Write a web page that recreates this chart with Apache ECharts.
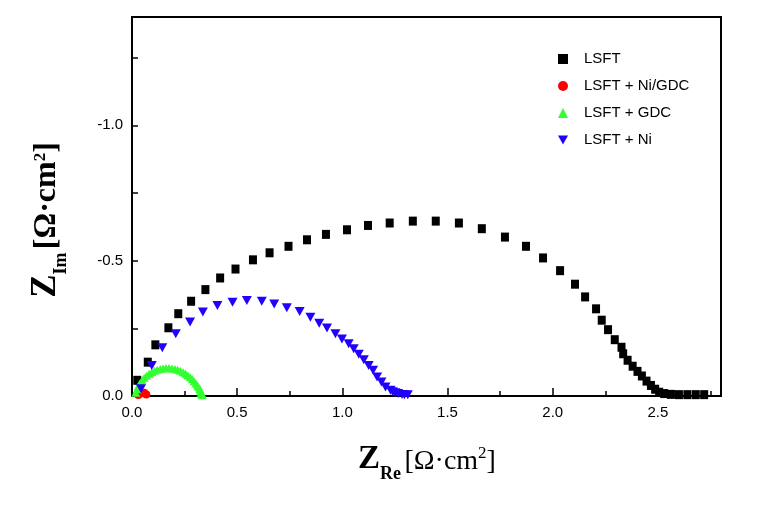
<!DOCTYPE html>
<html>
<head>
<meta charset="utf-8">
<script src="https://cdn.jsdelivr.net/npm/echarts@6/dist/echarts.min.js"></script>
<style>html,body{margin:0;padding:0;background:#fff}#c{width:780px;height:519px}</style>
</head>
<body>
<div id="c"></div>
<script>
// Z_Re [Ohm cm2] and Z_Im [Ohm cm2] (negative = capacitive, plotted upward)
const seriesNames = ['LSFT', 'LSFT + Ni/GDC', 'LSFT + GDC', 'LSFT + Ni'];

const lsftRe = [0.025,0.075,0.111,0.173,0.220,0.281,0.349,0.419,0.492,0.575,0.654,0.744,0.832,0.922,1.022,1.122,1.225,1.335,1.444,1.554,1.663,1.773,1.873,1.954,2.035,2.106,2.154,2.206,2.233,2.263,2.295,2.327,2.335,2.356,2.380,2.403,2.424,2.446,2.467,2.487,2.506,2.530,2.562,2.60,2.64,2.68,2.72];
const lsftIm = [-0.058,-0.125,-0.189,-0.252,-0.304,-0.350,-0.393,-0.436,-0.469,-0.503,-0.529,-0.553,-0.577,-0.597,-0.614,-0.630,-0.639,-0.646,-0.646,-0.639,-0.618,-0.587,-0.553,-0.510,-0.463,-0.413,-0.366,-0.322,-0.280,-0.245,-0.208,-0.180,-0.156,-0.132,-0.110,-0.091,-0.074,-0.055,-0.039,-0.025,-0.014,-0.009,-0.006,-0.005,-0.005,-0.005,-0.005];

const niGdcRe = [0.030,0.045,0.058,0.068];
const niGdcIm = [-0.004,-0.010,-0.012,-0.006];

const gdcRe = [0.018,0.024,0.031,0.039,0.048,0.058,0.069,0.081,0.094,0.107,0.120,0.134,0.148,0.162,0.176,0.190,0.204,0.217,0.230,0.243,0.255,0.266,0.277,0.287,0.296,0.304,0.311,0.317,0.322,0.326,0.329,0.332,0.334];
const gdcIm = [-0.012,-0.025,-0.037,-0.048,-0.058,-0.067,-0.075,-0.082,-0.088,-0.093,-0.097,-0.100,-0.102,-0.103,-0.103,-0.102,-0.100,-0.097,-0.093,-0.088,-0.082,-0.076,-0.069,-0.062,-0.054,-0.046,-0.039,-0.032,-0.025,-0.018,-0.012,-0.007,-0.003];

const niRe = [0.043,0.094,0.144,0.208,0.276,0.337,0.406,0.478,0.546,0.617,0.676,0.736,0.797,0.848,0.890,0.927,0.967,0.998,1.030,1.054,1.078,1.102,1.125,1.146,1.165,1.186,1.205,1.229,1.240,1.252,1.265,1.284,1.295,1.311];
const niIm = [-0.027,-0.113,-0.178,-0.230,-0.273,-0.310,-0.334,-0.346,-0.353,-0.350,-0.340,-0.326,-0.312,-0.291,-0.269,-0.251,-0.230,-0.211,-0.193,-0.175,-0.154,-0.134,-0.113,-0.095,-0.070,-0.052,-0.033,-0.021,-0.016,-0.012,-0.009,-0.006,-0.005,-0.005];

const xTickLabels = ['0.0','0.5','1.0','1.5','2.0','2.5'];
const yTickLabels = ['0.0','-0.5','-1.0'];

function pts(re, im) { return re.map((r, i) => [r, -im[i]]); }

const labelFont = "'Liberation Sans Narrow','Liberation Sans',Arial,sans-serif";
const serif = "'Liberation Serif','DejaVu Serif',serif";

function titleRich(bracketWeight, zSize, brSize) {
  return {
    z: {fontFamily: serif, fontWeight: 'bold', fontSize: zSize, lineHeight: 32, padding: [0, 0, 7, 0], verticalAlign: 'bottom', fill: '#000'},
    sub: {fontFamily: serif, fontWeight: 'bold', fontSize: 18, lineHeight: 18, verticalAlign: 'bottom', fill: '#000'},
    br: {fontFamily: serif, fontWeight: bracketWeight, fontSize: brSize, lineHeight: 32, padding: [0, 0, 7, 0], verticalAlign: 'bottom', fill: '#000'},
    sup: {fontFamily: serif, fontWeight: bracketWeight, fontSize: 17, lineHeight: 17, padding: [0, 0, 21, 0], verticalAlign: 'bottom', fill: '#000'}
  };
}

const chart = echarts.init(document.getElementById('c'), null, {renderer: 'canvas'});
chart.setOption({
  backgroundColor: '#fff',
  animation: false,
  grid: {left: 132, right: 59, top: 17, bottom: 123, show: true, borderColor: '#000', borderWidth: 2, backgroundColor: 'transparent'},
  legend: {
    orient: 'vertical', left: 553, top: 46,
    itemWidth: 10, itemHeight: 10, itemGap: 11,
    textStyle: {fontFamily: labelFont, fontSize: 15, color: '#000', lineHeight: 16, padding: [0, 0, 0, 11]},
    data: [
      {name: seriesNames[0]},
      {name: seriesNames[1]},
      {name: seriesNames[2]},
      {name: seriesNames[3], icon: 'path://M0,0L10,0L5,9Z'}
    ]
  },
  xAxis: [{
    type: 'value', min: 0, max: 2.8, interval: 0.25, position: 'bottom',
    axisLine: {lineStyle: {color: '#000', width: 2}},
    axisTick: {inside: true, length: 5, lineStyle: {color: '#000', width: 1.5}},
    axisLabel: {show: false}, splitLine: {show: false}
  }, {
    type: 'value', min: 0, max: 2.8, interval: 0.5, position: 'bottom', offset: 0,
    axisLine: {show: false},
    axisTick: {inside: true, length: 8, lineStyle: {color: '#000', width: 1.5}},
    axisLabel: {margin: 9, fontFamily: labelFont, fontSize: 15, color: '#000',
      formatter: v => { const k = Math.round(v / 0.5); return Math.abs(v - k * 0.5) < 1e-6 ? (xTickLabels[k] || '') : ''; }},
    splitLine: {show: false}
  }],
  yAxis: [{
    type: 'value', min: 0, max: 1.4, interval: 0.25,
    axisLine: {lineStyle: {color: '#000', width: 2}},
    axisTick: {inside: true, length: 6, lineStyle: {color: '#000', width: 1.5}},
    axisLabel: {margin: 9, fontFamily: labelFont, fontSize: 15, color: '#000',
      formatter: v => { const k = Math.round(v / 0.5); return Math.abs(v - k * 0.5) < 1e-6 ? (yTickLabels[k] || '') : ''; }},
    splitLine: {show: false}
  }],
  series: [
    {name: seriesNames[0], type: 'scatter', symbol: 'rect', symbolSize: [8, 9], itemStyle: {color: '#000000', opacity: 1}, data: pts(lsftRe, lsftIm), z: 2},
    {name: seriesNames[1], type: 'scatter', symbol: 'circle', symbolSize: 8, itemStyle: {color: '#ff0000', opacity: 1}, data: pts(niGdcRe, niGdcIm), z: 3},
    {name: seriesNames[2], type: 'scatter', symbol: 'triangle', symbolSize: [9, 8], itemStyle: {color: '#33ff33', opacity: 1}, data: pts(gdcRe, gdcIm), z: 4},
    {name: seriesNames[3], type: 'scatter', symbol: 'triangle', symbolRotate: 180, symbolSize: [10, 9], itemStyle: {color: '#2200ff', opacity: 1}, data: pts(niRe, niIm), z: 5}
  ],
  graphic: [
    {type: 'text', x: 427, y: 467, style: {
      text: '{z|Z}{sub|Re} {br|[Ω·cm}{sup|2}{br|]}', align: 'center', verticalAlign: 'middle',
      rich: titleRich('normal', 33, 28)}},
    {type: 'text', x: 54, y: 220, rotation: Math.PI / 2, style: {
      text: '{z|Z}{sub|Im} {br|[Ω·cm}{sup|2}{br|]}', align: 'center', verticalAlign: 'middle',
      rich: titleRich('bold', 35, 32)}}
  ]
});
</script>
</body>
</html>
